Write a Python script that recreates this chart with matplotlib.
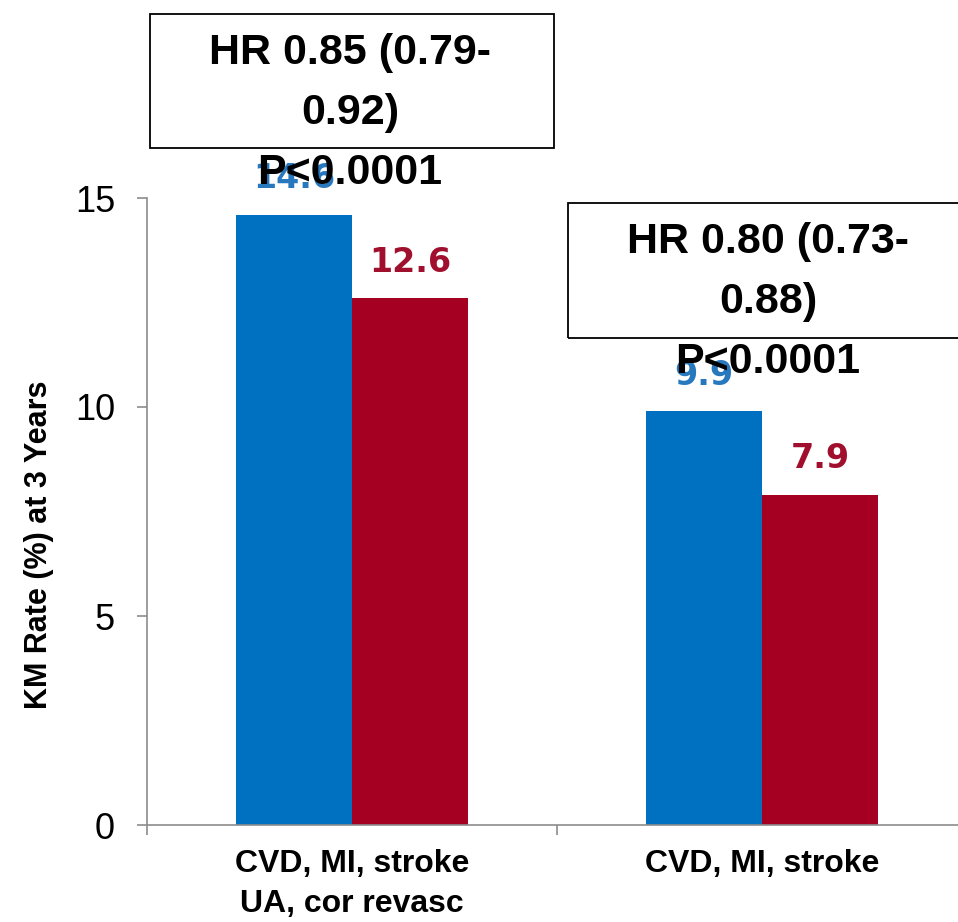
import matplotlib
matplotlib.use("Agg")
import matplotlib.pyplot as plt
from matplotlib.patches import Rectangle
from matplotlib.ticker import FixedLocator


categories=["CVD, MI, stroke\nUA, cor revasc","CVD, MI, stroke"]
placebo=[14.6,9.9]
treated=[12.6,7.9]
hr_labels=["HR 0.85 (0.79-\n0.92)\nP<0.0001","HR 0.80 (0.73-\n0.88)\nP<0.0001"]

blue="#0070C0"
red="#A50021"
axis_grey="#8C8C8C"

fig=plt.figure(figsize=(9.58,9.22),dpi=100)
ax=fig.add_axes([147/958,97/922,820/958,627/922])

w=0.283
x=range(len(categories))

bars_b=ax.bar([i-w/2 for i in x],placebo,width=w,color=blue)
bars_r=ax.bar([i+w/2 for i in x],treated,width=w,color=red)

# value labels above each bar
for bars,vals,col in [(bars_b,placebo,"#2878BE"),(bars_r,treated,"#A0102E")]:
    for b,v in zip(bars,vals):
        ax.annotate(
            f"{v:.1f}",
            (b.get_x()+b.get_width()/2,v),
            xytext=(0,19),textcoords="offset points",
            ha="center",va="baseline",
            fontsize=24,fontweight="bold",color=col,
            family="DejaVu Sans",
            annotation_clip=False
        )

ax.set_xlim(-0.5,1.5)
ax.set_ylim(0,15)
ax.set_yticks([0,5,10,15])

ax.xaxis.set_major_locator(FixedLocator([-0.5,0.5,1.5]))
ax.xaxis.set_minor_locator(FixedLocator(list(x)))
ax.set_xticklabels([])
ax.set_xticklabels(categories,minor=True)
ax.tick_params(axis="x",which="minor",length=0,pad=17)
ax.tick_params(axis="x",which="major",length=7,width=1.2,color=axis_grey,direction="out")
ax.tick_params(axis="y",length=7,width=1.2,color=axis_grey,direction="out",pad=16)

for lab in ax.get_xticklabels(minor=True):
    lab.set_family("Liberation Sans")
    lab.set_fontweight("bold")
    lab.set_fontsize(23)
    lab.set_linespacing(1.45)
    lab.set_multialignment("center")

for lab in ax.get_yticklabels():
    lab.set_family("Liberation Sans")
    lab.set_fontsize(26)

for s in ["top","right"]:
    ax.spines[s].set_visible(False)
for s in ["left","bottom"]:
    ax.spines[s].set_color(axis_grey)
    ax.spines[s].set_linewidth(1.2)

ax.set_ylabel(
    "KM Rate (%) at 3 Years",
    fontsize=22,fontweight="bold",family="Liberation Sans"
)
ax.yaxis.set_label_coords(-0.113,0.447)

# hazard ratio boxes, text runs past the lower edge of each box
box_specs=[(0,16.2,19.4),(1.02,11.65,14.88)]
box_w=0.985
for (cx,y0,y1),txt in zip(box_specs,hr_labels):
    ax.add_patch(Rectangle(
        (cx-box_w/2,y0),box_w,y1-y0,
        fill=False,edgecolor="black",linewidth=1.3,clip_on=False,zorder=3
    ))
    ax.text(
        cx-0.005,y1-0.45,txt,
        ha="center",va="top",multialignment="center",
        fontsize=31,fontweight="bold",family="Liberation Sans",
        linespacing=1.65,clip_on=False,zorder=4
    )

fig.savefig("out.png",dpi=100)
